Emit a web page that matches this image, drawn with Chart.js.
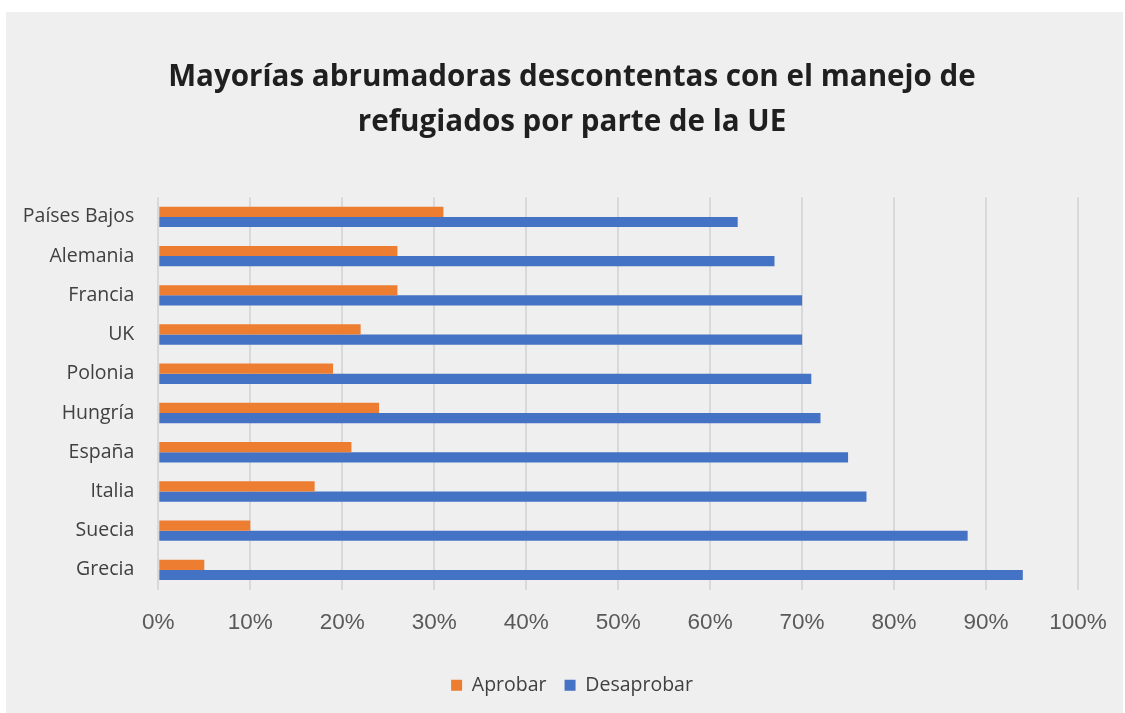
<!DOCTYPE html>
<html>
<head>
<meta charset="utf-8">
<script src="https://cdn.jsdelivr.net/npm/chart.js@4.4.1/dist/chart.umd.min.js"></script>
<style>
  html, body { margin: 0; padding: 0; background: #ffffff; overflow: hidden; }
  #wrap {
    position: absolute; left: 6px; top: 12px;
    width: 1117px; height: 701px;
    background: #efefef;
  }
  /* canvas runs a little past the panel so the title and legend centre like the original */
  #chart { position: absolute; left: 6px; top: 12px; }
</style>
</head>
<body>
<div id="wrap"></div>
<canvas id="chart" width="1130" height="701"></canvas>
<script>
// --- data ---
const countries = ['Países Bajos', 'Alemania', 'Francia', 'UK', 'Polonia', 'Hungría', 'España', 'Italia', 'Suecia', 'Grecia'];
const aprobar = [31, 26, 26, 22, 19, 24, 21, 17, 10, 5];
const desaprobar = [63, 67, 70, 70, 71, 72, 75, 77, 88, 94];
const xTicks = [0, 10, 20, 30, 40, 50, 60, 70, 80, 90, 100];
const titleLines = ['Mayorías abrumadoras descontentas con el manejo de', 'refugiados por parte de la UE'];

const ORANGE = '#ed7d31';
const BLUE = '#4472c4';

new Chart(document.getElementById('chart'), {
  type: 'bar',
  data: {
    labels: countries,
    datasets: [
      { label: 'Aprobar', data: aprobar, backgroundColor: ORANGE, borderWidth: 0 },
      { label: 'Desaprobar', data: desaprobar, backgroundColor: BLUE, borderWidth: 0 }
    ]
  },
  options: {
    indexAxis: 'y',
    responsive: false,
    animation: false,
    devicePixelRatio: 1,
    layout: { padding: { left: 10, right: 8, top: 0, bottom: 8 } },
    datasets: { bar: { categoryPercentage: 0.52, barPercentage: 1 } },
    plugins: {
      title: {
        display: true,
        text: titleLines,
        color: '#1f1f1f',
        font: { family: 'Open Sans', size: 29.6, weight: 'bold', lineHeight: 1.52 },
        padding: { top: 43, bottom: 52.3 }
      },
      legend: {
        position: 'bottom',
        labels: {
          color: '#404040',
          font: { family: 'Open Sans', size: 19.5 },
          boxWidth: 11, boxHeight: 11,
          padding: 18
        }
      },
      tooltip: { enabled: false }
    },
    scales: {
      x: {
        min: 0, max: 100,
        afterBuildTicks: s => { s.ticks = xTicks.map(v => ({ value: v })); },
        // right margin of the plot, independent of the title/legend box
        afterFit: s => { s.height = 68; s.paddingLeft = 0; s.paddingRight = 58; },
        ticks: {
          color: '#595959',
          font: { family: 'Liberation Sans', size: 22.5 },
          padding: 20,
          callback: v => v + '%'
        },
        grid: { color: '#d9d9d9', lineWidth: 2, drawTicks: false },
        border: { display: false }
      },
      y: {
        afterFit: s => { s.width = 142.3; },
        ticks: {
          color: '#404040',
          font: { family: 'Open Sans', size: 19.5 },
          padding: 24
        },
        grid: { display: false, drawTicks: false },
        border: { display: false }
      }
    }
  }
});
</script>
</body>
</html>
